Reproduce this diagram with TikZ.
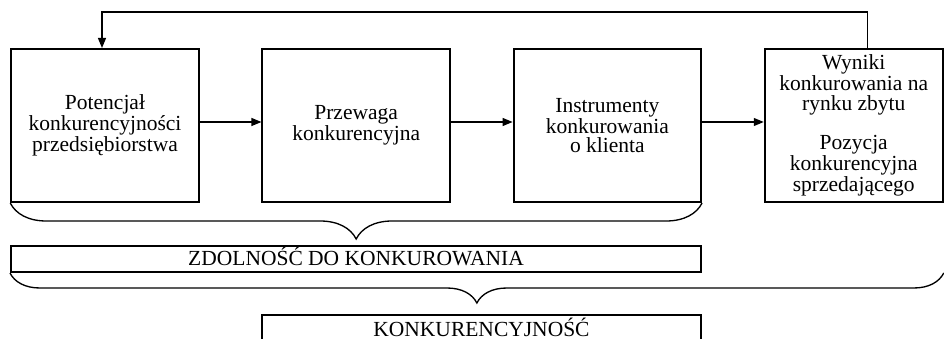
\documentclass[tikz,border=0pt]{standalone}
\usepackage{fontspec}
\setmainfont{Liberation Serif}
\usetikzlibrary{positioning,arrows.meta,decorations.pathreplacing}
\tikzstyle{block} = [rectangle, draw, line width=1.2pt,
minimum width=112.5pt, minimum height=91.8pt, align=center,
font=\fontsize{12.9}{11.7}\selectfont]
\tikzstyle{capbox} = [rectangle, draw, line width=1.2pt, inner sep=0pt,
text height=8.4pt, text depth=0pt, font=\fontsize{12.9}{11.7}\selectfont]
\tikzstyle{arrow} = [-{Triangle[length=6pt,width=4.8pt]}, line width=0.7pt]
\tikzset{curly/.style={decorate, decoration={brace, mirror, amplitude=#1}, line width=0.8pt}}

\begin{document}
\begin{tikzpicture}[x=0.6pt,y=-0.6pt]
\useasboundingbox (0,0) rectangle (944,339);
% the four stages
\node[block] (pot) at (105,125.5) {Potencjał\\konkurencyjności\\przedsiębiorstwa};
\node[block, right=37pt of pot] (prz) {Przewaga\\konkurencyjna};
\node[block, right=37pt of prz] (ins) {Instrumenty\\konkurowania\\o klienta};
\node[block, right=37pt of ins, minimum width=106.8pt] (wyn) {Wyniki\\konkurowania na\\rynku zbytu\\[11.7pt]Pozycja\\konkurencyjna\\sprzedającego};
\draw[arrow] ([yshift=2.1pt]pot.east) -- ([yshift=2.1pt]prz.west);
\draw[arrow] ([yshift=2.1pt]prz.east) -- ([yshift=2.1pt]ins.west);
\draw[arrow] ([yshift=2.1pt]ins.east) -- ([yshift=2.1pt]wyn.west);
% feedback
\draw[arrow] ([xshift=8.4pt]wyn.north) -- ++(0,-36) -| ([xshift=-1.8pt]pot.north);
% braces and summary boxes
\draw[curly=21.6pt] (pot.south west) -- (ins.south east);
\node[capbox, minimum width=414pt, minimum height=15.6pt] (zd) at (356,259) {ZDOLNOŚĆ DO KONKUROWANIA};
\draw[curly=18pt] (zd.south west) -- (zd.south west -| wyn.east);
\node[capbox, minimum width=263.4pt, minimum height=16.8pt, anchor=north] (konk) at (481.5,314) {KONKURENCYJNOŚĆ};
\end{tikzpicture}
\end{document}
